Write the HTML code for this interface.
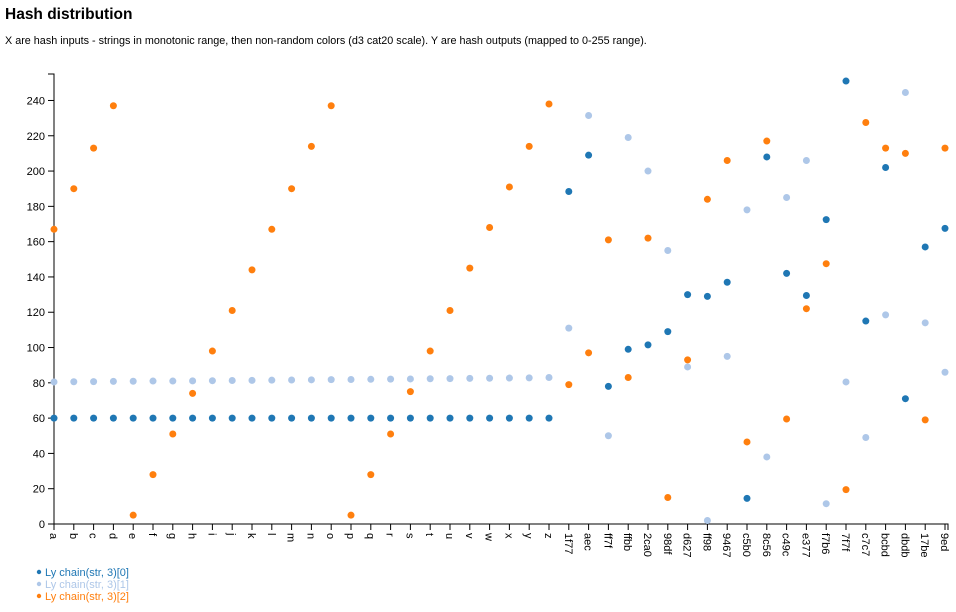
<!DOCTYPE html>
<html><head><meta charset="utf-8"><style>
body{margin:0;background:#fff;font-family:"Liberation Sans",sans-serif;}
svg text{font-family:"Liberation Sans","DejaVu Sans",sans-serif;}
</style></head><body>
<svg id="c" width="956" height="607">
<text x="5" y="19" font-size="15.5" font-weight="bold" fill="#000">Hash distribution</text>
<text x="5" y="44" font-size="10.8" fill="#000">X are hash inputs - strings in monotonic range, then non-random colors (d3 cat20 scale). Y are hash outputs (mapped to 0-255 range).</text>
</svg>
<script>
const categories=["a","b","c","d","e","f","g","h","i","j","k","l","m","n","o","p","q","r","s","t","u","v","w","x","y","z","1f77","aec","ff7f","ffbb","2ca0","98df","d627","ff98","9467","c5b0","8c56","c49c","e377","f7b6","7f7f","c7c7","bcbd","dbdb","17be","9ed"];
const series0=[60,60,60,60,60,60,60,60,60,60,60,60,60,60,60,60,60,60,60,60,60,60,60,60,60,60,188.4,209,78,99,101.5,109,130,129,137,14.5,208,142,129.5,172.5,251,115,202,71,157,167.5];
const series1=[80.5,80.6,80.7,80.8,80.9,81,81,81.1,81.2,81.3,81.4,81.5,81.6,81.7,81.8,81.9,82,82.1,82.2,82.3,82.4,82.5,82.6,82.7,82.8,83,111,231.5,50,219,200,155,89,2,95,178,38,185,206,11.5,80.5,49,118.5,244.5,114,86];
const series2=[167,190,213,237,5,28,51,74,98,121,144,167,190,214,237,5,28,51,75,98,121,145,168,191,214,238,79,97,161,83,162,15,93,184,206,46.5,217,59.5,122,147.5,19.5,227.5,213,210,59,213];
const yTicks=[0,20,40,60,80,100,120,140,160,180,200,220,240];
const seriesNames=["Ly chain(str, 3)[0]","Ly chain(str, 3)[1]","Ly chain(str, 3)[2]"];
const colors=["#1f77b4","#aec7e8","#ff7f0e"];
const NS="http://www.w3.org/2000/svg";
const svg=document.getElementById('c');
const x0=54,x1=945,y0=524,yTop=74,ymax=255;
const xs=i=>x0+(x1-x0)*i/(categories.length-1);
const ys=v=>y0-(y0-yTop)*v/ymax;
function mk(t,a){const e=document.createElementNS(NS,t);for(const k in a)e.setAttribute(k,a[k]);svg.appendChild(e);return e;}
let ax=mk('path',{d:`M${x0-6},${yTop}H${x0}V${y0}H${x0-6}`,fill:'none',stroke:'#000'});


yTicks.forEach(v=>{const y=ys(v);
let l=mk('line',{x1:x0-6,x2:x0,y1:y,y2:y,stroke:'#000'});


let t=mk('text',{x:x0-9,y:y+4,'text-anchor':'end','font-size':'11'});t.textContent=v;

});
let xa=mk('path',{d:`M${x0},${y0+6}V${y0}H${x1+3}V${y0+6}`,fill:'none',stroke:'#000'});


categories.forEach((c,i)=>{const x=xs(i);
let l=mk('line',{x1:x,x2:x,y1:y0,y2:y0+6,stroke:'#000'});


let t=mk('text',{x:0,y:0,'font-size':'11',transform:`translate(${x-4},${y0+9}) rotate(90)`});t.textContent=c;

});
[series0,series1,series2].forEach((s,k)=>{s.forEach((v,i)=>{
let p=mk('circle',{cx:xs(i),cy:ys(v),r:3.5,fill:colors[k]});

});});
seriesNames.forEach((n,k)=>{const y=573+k*12;
let d=mk('circle',{cx:39,cy:y-1,r:2.2,fill:colors[k]});


let t=mk('text',{x:45,y:y+3,'font-size':'11',fill:colors[k]});t.textContent=n;

});
</script>
</body></html>
